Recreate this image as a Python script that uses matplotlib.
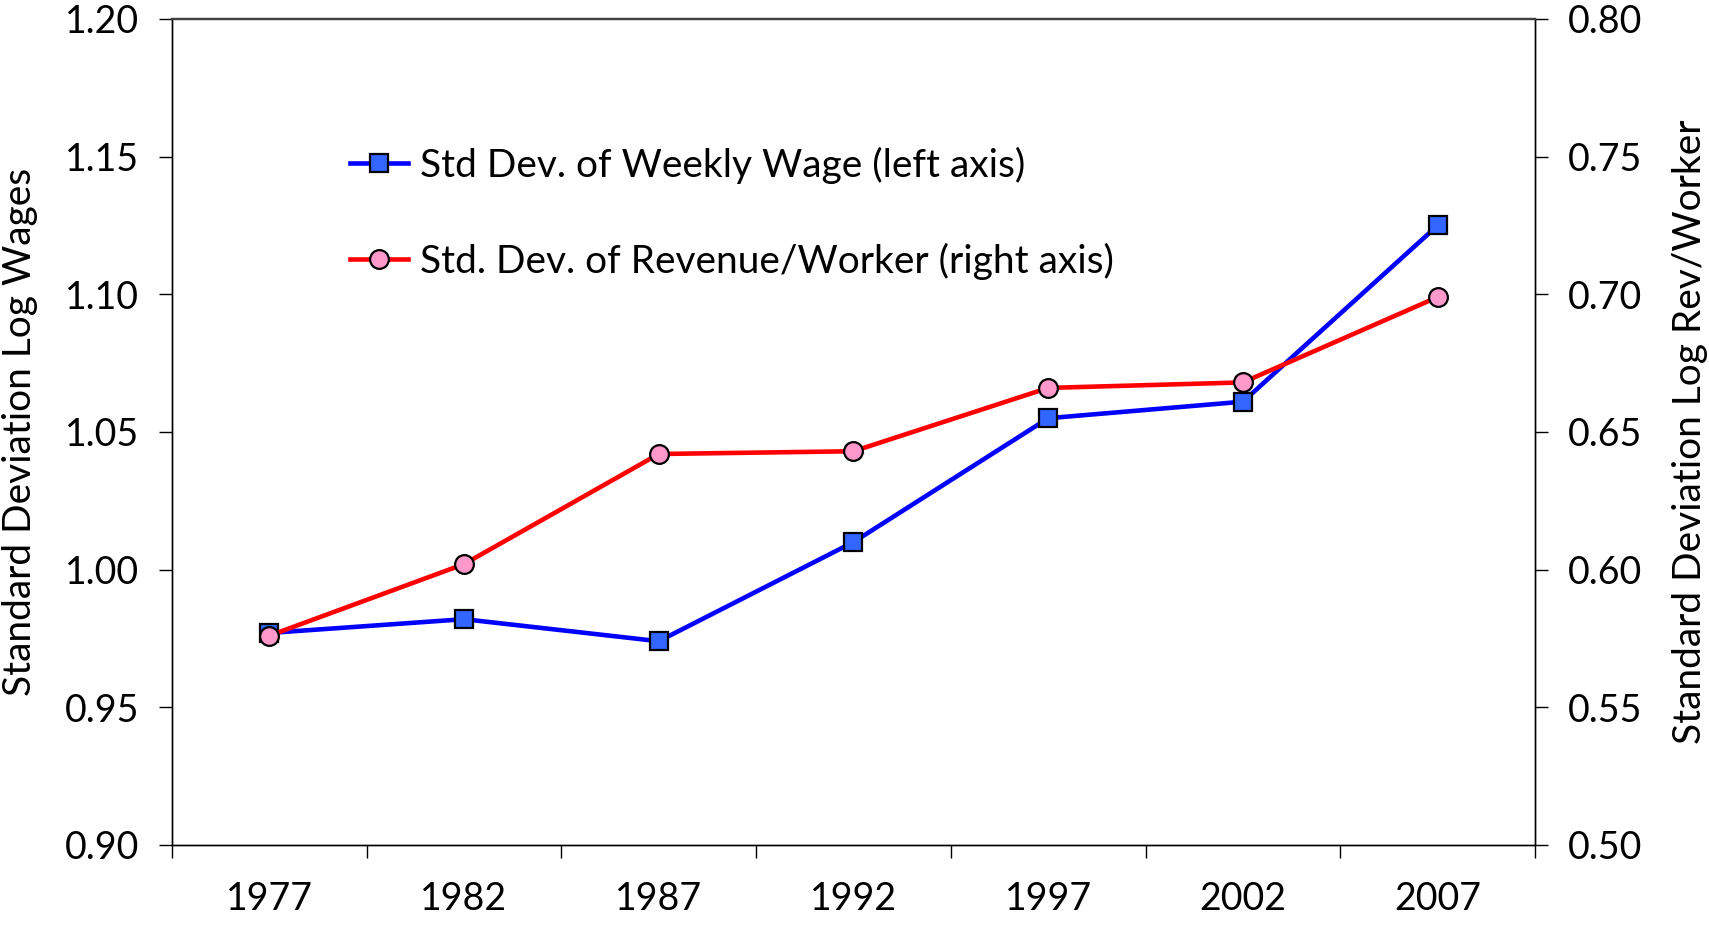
import matplotlib.pyplot as plt
from matplotlib.ticker import FixedLocator, NullFormatter, FixedFormatter

plt.rcParams['font.family'] = ['Lato', 'DejaVu Sans']

years = ['1977', '1982', '1987', '1992', '1997', '2002', '2007']
wage_sd = [0.977, 0.982, 0.974, 1.010, 1.055, 1.061, 1.125]
rev_sd = [0.576, 0.602, 0.642, 0.643, 0.666, 0.668, 0.699]

left_ticks = [0.90, 0.95, 1.00, 1.05, 1.10, 1.15, 1.20]
right_ticks = [0.50, 0.55, 0.60, 0.65, 0.70, 0.75, 0.80]

fs = 27
x = list(range(len(years)))

fig = plt.figure(figsize=(17.09, 9.35), dpi=100)
ax = fig.add_axes([0.1006, 0.0963, 0.7976, 0.8834])
ax2 = ax.twinx()

l1, = ax.plot(x, wage_sd, color='#0000ff', lw=3.3, marker='s', ms=13.5,
              mfc='#3366ff', mec='black', mew=1.6,
              label='Std Dev. of Weekly Wage (left axis)')
l2, = ax2.plot(x, rev_sd, color='#ff0000', lw=3.3, marker='o', ms=13.5,
               mfc='#ff99cc', mec='black', mew=1.6,
               label='Std. Dev. of Revenue/Worker (right axis)')

ax.set_xlim(-0.5, len(years) - 0.5)
ax.set_ylim(0.90, 1.20)
ax2.set_ylim(0.50, 0.80)

# category axis with ticks between categories
ax.xaxis.set_major_locator(FixedLocator([i - 0.5 for i in range(len(years) + 1)]))
ax.xaxis.set_major_formatter(NullFormatter())
ax.xaxis.set_minor_locator(FixedLocator(x))
ax.xaxis.set_minor_formatter(FixedFormatter(years))
ax.tick_params(axis='x', which='major', direction='out', length=9.5, width=1)
ax.tick_params(axis='x', which='minor', length=0, pad=26, labelsize=fs)

ax.set_yticks(left_ticks)
ax.set_yticklabels(['%.2f' % v for v in left_ticks])
ax.tick_params(axis='y', direction='out', length=9.5, width=1, pad=14, labelsize=fs)
ax2.set_yticks(right_ticks)
ax2.set_yticklabels(['%.2f' % v for v in right_ticks])
ax2.tick_params(axis='y', direction='out', length=9.5, width=1, pad=14, labelsize=fs)

for a in (ax, ax2):
    for s in ('left', 'right', 'bottom'):
        a.spines[s].set_linewidth(1)
        a.spines[s].set_color('black')
    a.spines['top'].set_color('#404040')
    a.spines['top'].set_linewidth(1.6)

ax.set_ylabel('Standard Deviation Log Wages', fontsize=28)
ax.yaxis.set_label_coords(-0.0983, 0.5)
ax2.set_ylabel('Standard Deviation Log Rev/Worker', fontsize=28)
ax2.yaxis.set_label_coords(1.1005, 0.5)

ax2.legend(handles=[l1, l2], loc='upper left', bbox_to_anchor=(0.119, 0.864),
           frameon=False, fontsize=28, handlelength=1.5, handletextpad=0.3,
           labelspacing=1.5, borderaxespad=0)

fig.savefig('out.png', dpi=100)
